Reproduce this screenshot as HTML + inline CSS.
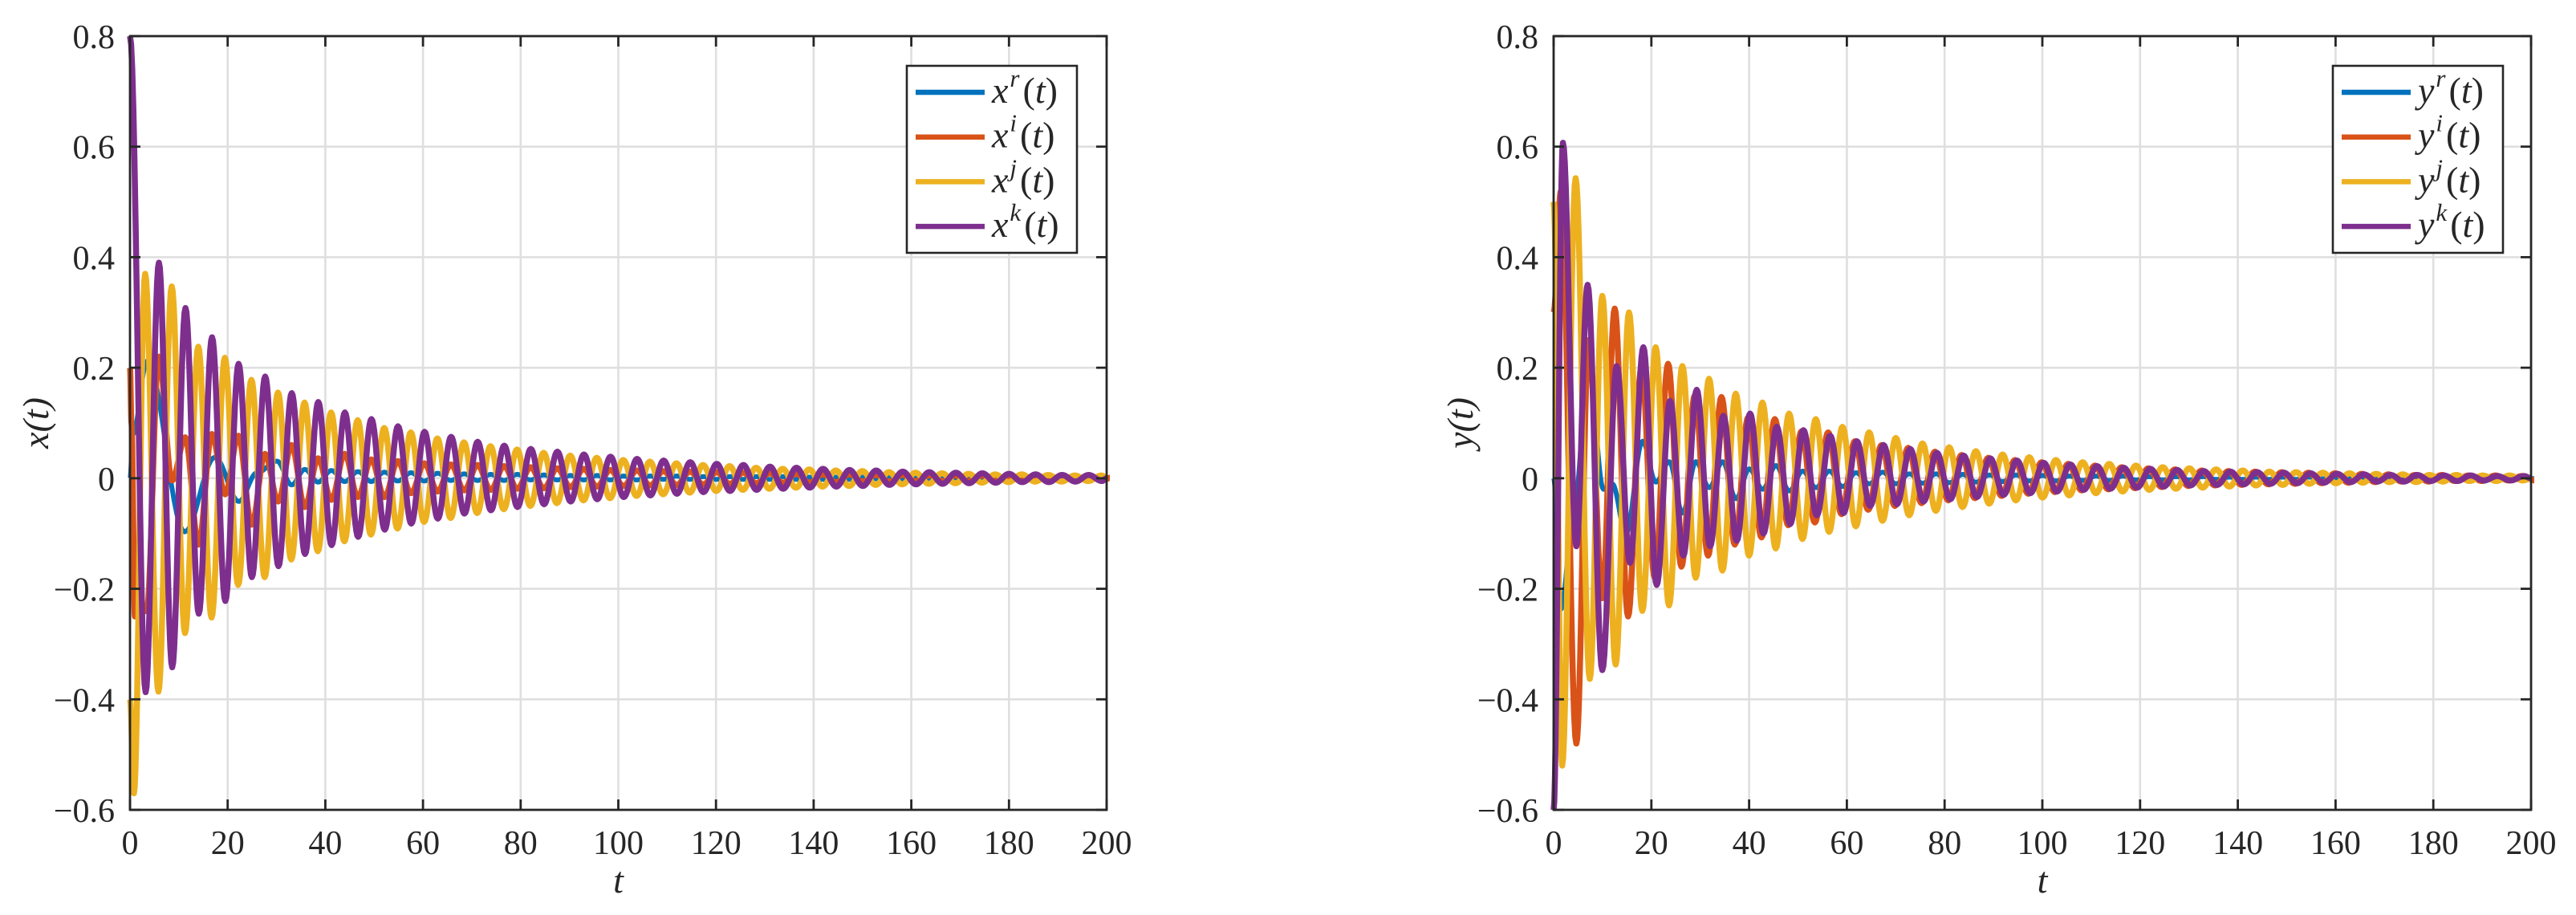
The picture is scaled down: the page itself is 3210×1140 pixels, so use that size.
<!DOCTYPE html>
<html><head><meta charset="utf-8"><style>
html,body{margin:0;padding:0;background:#fff;}
svg{display:block;}
text{font-family:"Liberation Serif",serif;fill:#262626;}
</style></head>
<body>
<svg id="fig" width="3210" height="1140" viewBox="0 0 3210 1140" xmlns="http://www.w3.org/2000/svg">
<rect width="3210" height="1140" fill="#fff"/>
<g id="left-panel"></g>
<g id="right-panel"></g>
</svg>
<script>
// ---- axis data ----
const tTicks = [0,20,40,60,80,100,120,140,160,180,200];
const vTicks = [-0.6,-0.4,-0.2,0,0.2,0.4,0.6,0.8];
const vTickLabels = ["\u22120.6","\u22120.4","\u22120.2","0","0.2","0.4","0.6","0.8"];

// ---- x(t) panel series ----
const xrHeadT = [0, 0.6, 3.5, 11.2, 17.4, 22.3, 26.0, 30.1, 33.1];
const xrHeadV = [0, 0.08, 0.212, -0.097, 0.038, -0.042, 0.01, 0.031, -0.012];
const xrStart = 35.8, xrHalf = 2.72;
const xrPeaks = [0.016,-0.007,0.014,-0.006,0.012,-0.006,0.011,-0.005,0.01,-0.005,0.009,-0.004,0.008,-0.004,0.007,-0.004,0.007,-0.003,0.006,-0.003,0.005,-0.003,0.005,-0.003,0.004,-0.003,0.004,-0.002,0.004,-0.002,0.003,-0.002,0.003,-0.002,0.003,-0.002,0.003,-0.002,0.002,-0.002,0.002,-0.002,0.002,-0.001,0.002,-0.001,0.002,-0.001,0.001,-0.001,0.001,-0.001,0.001,-0.001,0.001,-0.001,0.001,-0.001,0.001,-0.001,0.001,-0.001];

const xiHeadT = [0, 0.3, 1.0, 3.4, 5.9];
const xiHeadV = [0.2, 0.1, -0.25, -0.24, 0.22];
const xiStart = 8.6, xiHalf = 2.72;
const xiPeaks = [-0.004,0.074,-0.12,0.08,-0.029,0.077,-0.084,0.044,-0.042,0.06,-0.052,0.036,-0.039,0.044,-0.034,0.034,-0.034,0.031,-0.027,0.027,-0.024,0.025,-0.022,0.024,-0.021,0.022,-0.019,0.02,-0.018,0.018,-0.016,0.017,-0.015,0.015,-0.014,0.014,-0.013,0.013,-0.012,0.012,-0.011,0.011,-0.01,0.01,-0.009,0.009,-0.008,0.008,-0.008,0.007,-0.007,0.007,-0.006,0.006,-0.006,0.006,-0.005,0.005,-0.005,0.005,-0.005,0.005,-0.004,0.004,-0.004,0.004,-0.004,0.004,-0.003,0.003,-0.003,0.003];

const xjHeadT = [0, 0.8];
const xjHeadV = [-0.4, -0.57];
const xjStart = 3.1, xjHalf = 2.72;
const xjPeaks = [0.37,-0.386,0.347,-0.28,0.238,-0.252,0.218,-0.193,0.178,-0.179,0.155,-0.147,0.137,-0.132,0.119,-0.114,0.105,-0.102,0.091,-0.091,0.083,-0.079,0.072,-0.072,0.065,-0.063,0.058,-0.056,0.052,-0.05,0.046,-0.045,0.041,-0.04,0.037,-0.036,0.033,-0.032,0.03,-0.029,0.027,-0.026,0.024,-0.023,0.022,-0.021,0.019,-0.019,0.017,-0.017,0.016,-0.015,0.014,-0.014,0.013,-0.012,0.011,-0.011,0.01,-0.01,0.009,-0.009,0.008,-0.008,0.007,-0.007,0.007,-0.006,0.006,-0.006,0.005,-0.005,0.005];

const xkHeadT = [0];
const xkHeadV = [0.8];
const xkStart = 3.2, xkHalf = 2.72;
const xkPeaks = [-0.387,0.39,-0.342,0.308,-0.245,0.255,-0.222,0.207,-0.179,0.184,-0.159,0.154,-0.137,0.138,-0.121,0.119,-0.106,0.107,-0.093,0.094,-0.082,0.084,-0.073,0.075,-0.064,0.066,-0.058,0.059,-0.052,0.053,-0.047,0.048,-0.042,0.043,-0.038,0.039,-0.034,0.035,-0.031,0.032,-0.028,0.029,-0.025,0.026,-0.023,0.024,-0.021,0.021,-0.019,0.019,-0.017,0.017,-0.015,0.015,-0.014,0.014,-0.012,0.012,-0.011,0.011,-0.01,0.01,-0.009,0.009,-0.008,0.008,-0.007,0.007,-0.007,0.006,-0.006,0.006,-0.005];

// ---- y(t) panel series ----
const yrHeadT = [0, 1.5, 4.2, 7.2, 10.2, 12.0, 14.8];
const yrHeadV = [0, -0.237, -0.05, 0.2, -0.02, -0.01, -0.1];
const yrStart = 18.2, yrHalf = 2.73;
const yrPeaks = [0.067,-0.007,0.03,-0.063,0.03,-0.017,0.03,-0.037,0.017,-0.02,0.023,-0.023,0.013,-0.017,0.013,-0.015,0.01,-0.01,0.011,-0.01,0.008,-0.009,0.008,-0.008,0.007,-0.007,0.006,-0.006,0.006,-0.005,0.005,-0.005,0.004,-0.004,0.004,-0.004,0.004,-0.003,0.003,-0.003,0.003,-0.003,0.003,-0.002,0.002,-0.002,0.002,-0.002,0.002,-0.002,0.002,-0.001,0.001,-0.001,0.001,-0.001,0.001,-0.001,0.001,-0.001,0.001,-0.001,0.001,-0.001,0.001,-0.001,0.001,-0.001,0.001];

const yiHeadT = [0, 1.5, 4.65, 7.2, 9.96];
const yiHeadV = [0.3, 0.52, -0.48, 0.25, -0.217];
const yiStart = 12.5, yiHalf = 2.73;
const yiPeaks = [0.307,-0.25,0.2,-0.18,0.207,-0.16,0.15,-0.14,0.147,-0.12,0.11,-0.107,0.107,-0.085,0.085,-0.08,0.083,-0.065,0.067,-0.057,0.06,-0.05,0.055,-0.045,0.048,-0.04,0.042,-0.036,0.037,-0.032,0.033,-0.028,0.029,-0.025,0.026,-0.022,0.023,-0.02,0.02,-0.018,0.018,-0.016,0.016,-0.014,0.014,-0.013,0.013,-0.012,0.012,-0.011,0.011,-0.01,0.01,-0.009,0.009,-0.008,0.008,-0.007,0.007,-0.006,0.006,-0.006,0.006,-0.005,0.005,-0.005,0.005,-0.004,0.004,-0.004];

const yjHeadT = [0, 1.75, 4.5, 7.4];
const yjHeadV = [0.5, -0.52, 0.543, -0.363];
const yjStart = 9.96, yjHalf = 2.73;
const yjPeaks = [0.33,-0.337,0.3,-0.24,0.237,-0.23,0.203,-0.18,0.18,-0.167,0.153,-0.14,0.137,-0.127,0.117,-0.11,0.107,-0.097,0.093,-0.087,0.083,-0.077,0.073,-0.067,0.063,-0.059,0.056,-0.052,0.049,-0.046,0.043,-0.04,0.038,-0.035,0.033,-0.031,0.029,-0.027,0.026,-0.024,0.023,-0.021,0.02,-0.019,0.018,-0.017,0.016,-0.015,0.014,-0.013,0.012,-0.012,0.011,-0.01,0.01,-0.009,0.009,-0.008,0.008,-0.007,0.007,-0.007,0.006,-0.006,0.006,-0.005,0.005,-0.005,0.005,-0.004];

const ykHeadT = [0, 1.9, 4.65, 6.95, 9.96];
const ykHeadV = [-0.6, 0.607, -0.123, 0.35, -0.347];
const ykStart = 12.9, ykHalf = 2.73;
const ykPeaks = [0.203,-0.153,0.237,-0.193,0.14,-0.14,0.16,-0.123,0.113,-0.113,0.117,-0.1,0.093,-0.083,0.087,-0.067,0.077,-0.063,0.067,-0.05,0.06,-0.047,0.053,-0.042,0.046,-0.038,0.041,-0.034,0.036,-0.03,0.032,-0.027,0.028,-0.024,0.025,-0.021,0.022,-0.019,0.019,-0.017,0.017,-0.015,0.015,-0.013,0.013,-0.012,0.012,-0.011,0.011,-0.01,0.01,-0.009,0.009,-0.008,0.008,-0.007,0.007,-0.006,0.006,-0.006,0.006,-0.005,0.005,-0.005,0.005,-0.004,0.004,-0.004,0.004];

const colors = ["#0072BD","#D95319","#EDB120","#7E2F8E"];
const supers = ["r","i","j","k"];

const NS = "http://www.w3.org/2000/svg";
function mk(tag, attrs, parent){
  const e = document.createElementNS(NS, tag);
  for (const k in attrs) e.setAttribute(k, attrs[k]);
  parent.appendChild(e);
  return e;
}
function knots(hT, hV, start, half, peaks){
  const T = hT.slice(), V = hV.slice();
  for (let i=0;i<peaks.length;i++){ T.push(start + i*half); V.push(peaks[i]); }
  if (T[T.length-1] < 200){ T.push(200); V.push(0); }
  return [T,V];
}

function panel(gid, X0, X1, Y0, Y1, seriesList, letter, legX, ytitleX){
  const g = document.getElementById(gid);
  const sx = t => X0 + (t-0)/(200-0)*(X1-X0);
  const sy = v => Y1 - (v-(-0.6))/(0.8-(-0.6))*(Y1-Y0);
  const grid = mk("g",{},g);
  
  
  tTicks.forEach(t=>{ if(t>0&&t<200){ const l=mk("line",{x1:sx(t),x2:sx(t),y1:Y0,y2:Y1,stroke:"#dfdfdf","stroke-width":2.6},grid);
      }});
  vTicks.forEach(v=>{ if(v>-0.6&&v<0.8){ const l=mk("line",{x1:X0,x2:X1,y1:sy(v),y2:sy(v),stroke:"#dfdfdf","stroke-width":2.6},grid);
      }});
  const cp = mk("clipPath",{id:gid+"-clip"},g);
  mk("rect",{x:X0-4,y:Y0-4,width:X1-X0+8,height:Y1-Y0+8},cp);
  const lines = mk("g",{"clip-path":"url(#"+gid+"-clip)"},g);
  
  
  seriesList.forEach((s,si)=>{
    const [T,V] = s;
    let d = "M"+sx(T[0]).toFixed(2)+","+sy(V[0]).toFixed(2);
    for (let i=0;i<T.length-1;i++){
      if (T[i] >= 200) break;
      const n = 14;
      for (let k=1;k<=n;k++){
        const f = k/n, e = (1-Math.cos(Math.PI*f))/2;
        const t = T[i] + (T[i+1]-T[i])*f;
        const v = V[i] + (V[i+1]-V[i])*e;
        d += "L"+sx(t).toFixed(2)+","+sy(v).toFixed(2);
      }
    }
    const p = mk("path",{d:d,fill:"none",stroke:colors[si],"stroke-width":si===0?6:7.5,"stroke-linejoin":"round"},lines);
    
    
  });
  const ax = mk("g",{},g);
  
  
  mk("rect",{x:X0,y:Y0,width:X1-X0,height:Y1-Y0,fill:"none",stroke:"#262626","stroke-width":2.8},ax);
  tTicks.forEach((t,i)=>{
    mk("line",{x1:sx(t),x2:sx(t),y1:Y1,y2:Y1-13,stroke:"#262626","stroke-width":2.8},ax);
    mk("line",{x1:sx(t),x2:sx(t),y1:Y0,y2:Y0+13,stroke:"#262626","stroke-width":2.8},ax);
    const tx = mk("text",{x:sx(t),y:Y1+55,"font-size":42,"text-anchor":"middle"},ax);
    tx.textContent = String(t);
    
    
  });
  vTicks.forEach((v,i)=>{
    mk("line",{x1:X0,x2:X0+13,y1:sy(v),y2:sy(v),stroke:"#262626","stroke-width":2.8},ax);
    mk("line",{x1:X1,x2:X1-13,y1:sy(v),y2:sy(v),stroke:"#262626","stroke-width":2.8},ax);
    const tx = mk("text",{x:X0-19,y:sy(v)+15,"font-size":42,"text-anchor":"end"},ax);
    tx.textContent = vTickLabels[i];
    
    
  });
  const xt = mk("text",{x:(X0+X1)/2,y:Y1+103,"font-size":46,"font-style":"italic","text-anchor":"middle"},g);
  xt.textContent = "t";
  
  
  const yt = mk("text",{x:0,y:0,"font-size":46,"font-style":"italic","text-anchor":"middle",transform:"translate("+(ytitleX+15)+","+((Y0+Y1)/2)+") rotate(-90)"},g);
  yt.textContent = letter+"(t)";
  
  
  const lg = mk("g",{},g);
  
  
  mk("rect",{x:legX,y:82,width:212,height:233,fill:"#fff",stroke:"#262626","stroke-width":2.6},lg);
  supers.forEach((s,i)=>{
    const yy = 115 + i*55.7;
    const ent = mk("g",{},lg);
    
    
    mk("line",{x1:legX+11,x2:legX+97,y1:yy,y2:yy,stroke:colors[i],"stroke-width":6.5},ent);
    const tx = mk("text",{x:legX+106,y:yy+13,"font-size":46},ent);
    const a = mk("tspan",{"font-style":"italic"},tx); a.textContent = letter;
    const b = mk("tspan",{"font-style":"italic","font-size":31,dy:-20,dx:2},tx); b.textContent = s;
    const c = mk("tspan",{dy:20,dx:4},tx); c.textContent = "(";
    const d2 = mk("tspan",{"font-style":"italic"},tx); d2.textContent = "t";
    const e2 = mk("tspan",{},tx); e2.textContent = ")";
  });
}

const xSeries = [
  knots(xrHeadT,xrHeadV,xrStart,xrHalf,xrPeaks),
  knots(xiHeadT,xiHeadV,xiStart,xiHalf,xiPeaks),
  knots(xjHeadT,xjHeadV,xjStart,xjHalf,xjPeaks),
  knots(xkHeadT,xkHeadV,xkStart,xkHalf,xkPeaks)
];
const ySeries = [
  knots(yrHeadT,yrHeadV,yrStart,yrHalf,yrPeaks),
  knots(yiHeadT,yiHeadV,yiStart,yiHalf,yiPeaks),
  knots(yjHeadT,yjHeadV,yjStart,yjHalf,yjPeaks),
  knots(ykHeadT,ykHeadV,ykStart,ykHalf,ykPeaks)
];
panel("left-panel", 162, 1379, 45, 1009, xSeries, "x", 1130, 45);
panel("right-panel", 1936, 3154, 45, 1009, ySeries, "y", 2907, 1820);
</script>
</body></html>
